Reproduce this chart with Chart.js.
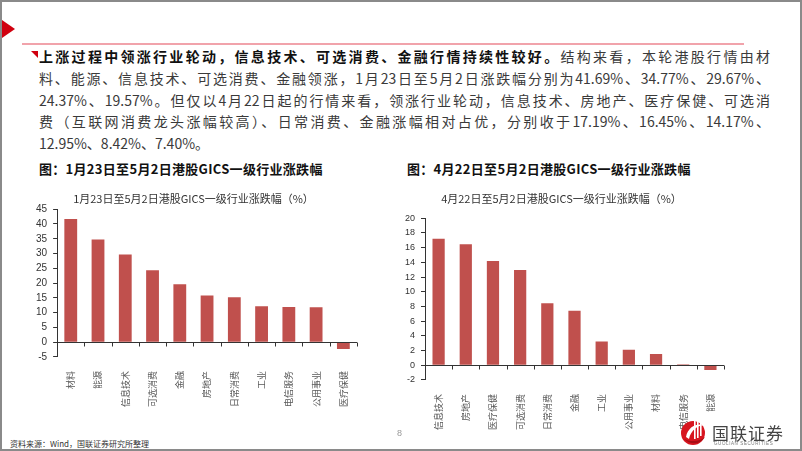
<!DOCTYPE html>
<html>
<head>
<meta charset="utf-8">
<script src="https://cdn.jsdelivr.net/npm/chart.js@4.4.1/dist/chart.umd.min.js"></script>
<style>
  html, body { margin: 0; padding: 0; background: #fff; }
  #page { position: relative; width: 802px; height: 451px; box-sizing: border-box; border: 2px solid #8a8a8a; overflow: hidden;
          font-family: "Noto Sans CJK SC", sans-serif; }
  .abs { position: absolute; }
  #tri { left: 0; top: 18px; width: 0; height: 0; border-top: 9px solid transparent; border-bottom: 9px solid transparent; border-left: 13px solid #d0000f; }
  #rule { left: 20px; top: 41px; width: 722px; height: 2px; background: #f1a3ab; }
  #corner { left: 29px; top: 49px; width: 0; height: 0; border-top: 7px solid #d0000f; border-left: 7px solid transparent; }
  #para { left: 37px; top: 44px; width: 731px; font-size: 14px; line-height: 21.8px; color: #3a3a3a; }
  #para div { text-align: justify; text-align-last: justify; white-space: nowrap; }
  #para div.last { text-align-last: left; }
  #para b { color: #111; }
  .head { top: 157px; font-size: 13px; font-weight: bold; color: #111; letter-spacing: 0.3px; }
  #foot { left: 8px; top: 436px; font-size: 8px; color: #333; }
  #pnum { left: 395px; top: 426px; font-size: 9px; color: #999; font-family: "Liberation Sans", sans-serif; }
  #logoTxt { left: 710px; top: 418px; font-size: 17px; color: #444; letter-spacing: 1px; }
  #logoSub { left: 712px; top: 439px; font-size: 4.5px; color: #777; letter-spacing: 0.6px; font-family: "Liberation Sans", sans-serif; }
  .box { position: absolute; }
</style>
</head>
<body>
<div id="page">
  <div id="tri" class="abs"></div>
  <div id="rule" class="abs"></div>
  <div id="corner" class="abs"></div>
  <div id="para" class="abs">
    <div><b>上涨过程中领涨行业轮动，信息技术、可选消费、金融行情持续性较好。</b>结构来看，本轮港股行情由材</div>
    <div>料、能源、信息技术、可选消费、金融领涨，1月23日至5月2日涨跌幅分别为41.69%、34.77%、29.67%、</div>
    <div>24.37%、19.57%。但仅以4月22日起的行情来看，领涨行业轮动，信息技术、房地产、医疗保健、可选消</div>
    <div>费（互联网消费龙头涨幅较高）、日常消费、金融涨幅相对占优，分别收于17.19%、16.45%、14.17%、</div>
    <div class="last">12.95%、8.42%、7.40%。</div>
  </div>
  <div class="abs head" style="left:37px">图：1月23日至5月2日港股GICS一级行业涨跌幅</div>
  <div class="abs head" style="left:405px">图：4月22日至5月2日港股GICS一级行业涨跌幅</div>

  <div class="box" style="left:16px; top:186px; width:352px; height:225px;"><canvas id="c1"></canvas></div>
  <div class="box" style="left:383px; top:186px; width:347px; height:248px;"><canvas id="c2"></canvas></div>

  <div id="foot" class="abs">资料来源：Wind，国联证券研究所整理</div>
  <div id="pnum" class="abs">8</div>
  <svg class="abs" style="left:678px; top:415px" width="28" height="30" viewBox="0 0 28 30">
    <circle cx="13" cy="16" r="12" fill="#d7151f"/>
    <path d="M6 20 C 8 10, 16 6, 24 8 C 17 9, 11 13, 9 22 Z" fill="#fff"/>
    <rect x="14" y="3" width="1.6" height="19" fill="#fff"/>
    <rect x="17" y="1" width="1.6" height="20" fill="#fff"/>
    <rect x="20" y="3" width="1.6" height="16" fill="#fff"/>
    <path d="M4 22 C 10 28, 20 28, 25 20 C 20 25, 10 25, 4 22 Z" fill="#a80d15"/>
  </svg>
  <div id="logoTxt" class="abs">国联证券</div>
  <div id="logoSub" class="abs">GUOLIAN SECURITIES</div>
</div>

<script>
// 1月23日至5月2日
var sectors1 = ['材料', '能源', '信息技术', '可选消费', '金融', '房地产', '日常消费', '工业', '电信服务', '公用事业', '医疗保健'];
var change1 = [41.69, 34.77, 29.67, 24.37, 19.57, 15.8, 15.2, 12.2, 11.9, 11.8, -2.3];
var title1 = '1月23日至5月2日港股GICS一级行业涨跌幅（%）';

// 4月22日至5月2日
var sectors2 = ['信息技术', '房地产', '医疗保健', '可选消费', '日常消费', '金融', '工业', '公用事业', '材料', '电信服务', '能源'];
var change2 = [17.19, 16.45, 14.17, 12.95, 8.42, 7.40, 3.25, 2.1, 1.55, 0.15, -0.65];
var title2 = '4月22日至5月2日港股GICS一级行业涨跌幅（%）';

var barColor = '#c0504d';
var axisColor = '#333333';

// zero line plus small tick marks under it, between categories
var zeroTicks = {
  id: 'zeroTicks',
  afterDraw: function(chart) {
    var x = chart.scales.x, y = chart.scales.y;
    var y0 = Math.round(y.getPixelForValue(0)) + 0.5;
    var ctx = chart.ctx;
    ctx.save();
    ctx.strokeStyle = axisColor;
    ctx.lineWidth = 1;
    ctx.beginPath();
    ctx.moveTo(chart.chartArea.left, y0);
    ctx.lineTo(chart.chartArea.right, y0);
    ctx.stroke();
    for (var i = 0; i <= chart.data.labels.length; i++) {
      var px = Math.round(x.getPixelForValue(i - 0.5)) + 0.5;
      ctx.beginPath();
      ctx.moveTo(px, y0);
      ctx.lineTo(px, y0 + 4);
      ctx.stroke();
    }
    ctx.restore();
  }
};

function makeChart(id, labels, values, title, yMin, yMax, step, opts) {
  return new Chart(document.getElementById(id), {
    type: 'bar',
    data: {
      labels: labels,
      datasets: [{
        data: values,
        backgroundColor: barColor,
        barPercentage: opts.barPct,
        categoryPercentage: 1
      }]
    },
    plugins: [zeroTicks],
    options: {
      responsive: true,
      maintainAspectRatio: false,
      animation: false,
      layout: { padding: opts.padding },
      plugins: {
        legend: { display: false },
        tooltip: { enabled: false },
        title: {
          display: true,
          text: title,
          color: '#333',
          font: { family: '"Noto Sans CJK SC", sans-serif', size: 11, weight: 'normal' },
          padding: { top: 4, bottom: opts.titleGap }
        }
      },
      scales: {
        x: {
          grid: { display: false },
          border: { display: false },
          ticks: {
            autoSkip: false,
            minRotation: 90,
            maxRotation: 90,
            padding: 6,
            color: '#595959',
            font: { family: '"Noto Sans CJK SC", sans-serif', size: 9 }
          }
        },
        y: {
          min: yMin,
          max: yMax,
          border: { display: true, color: axisColor, width: 1 },
          grid: {
            drawOnChartArea: false,
            drawTicks: true,
            tickLength: 4,
            tickColor: axisColor
          },
          ticks: {
            autoSkip: false,
            stepSize: step,
            padding: 6,
            color: '#333',
            font: { family: '"Liberation Sans", Arial, sans-serif', size: opts.yFont }
          }
        }
      }
    }
  });
}

makeChart('c1', sectors1, change1, title1, -5, 45, 5,
  { barPct: 0.47, padding: { left: 12, right: 13, top: 0, bottom: 0 }, titleGap: 4, yFont: 10 });
makeChart('c2', sectors2, change2, title2, -2, 20, 2,
  { barPct: 0.45, padding: { left: 14, right: 8, top: 0, bottom: 0 }, titleGap: 13, yFont: 9 });
</script>
</body>
</html>
